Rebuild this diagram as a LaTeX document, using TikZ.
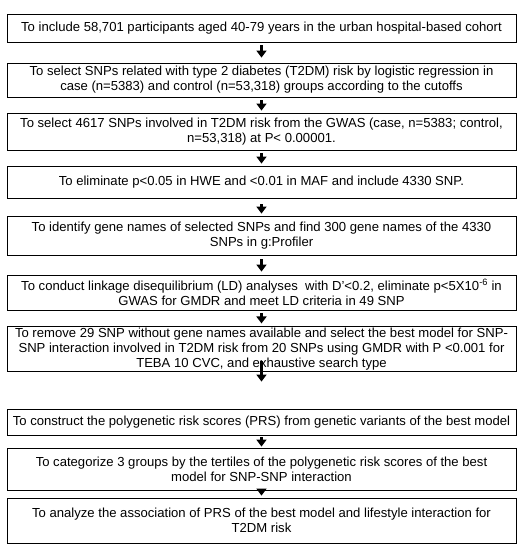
\documentclass[tikz,border=0pt]{standalone}
\usepackage{fontspec}
\setmainfont{Liberation Sans}
\usetikzlibrary{arrows.meta}
\tikzset{
  stepbox/.style={draw, line width=0.9pt, minimum width=509pt, align=center,
    inner xsep=0pt, inner ysep=1pt, font=\fontsize{13.1}{15}\selectfont},
  flow/.style={line width=2.4pt, -{Triangle[width=10pt,length=7pt]}}
}
\begin{document}
\begin{tikzpicture}[x=1pt,y=-1pt]
      \useasboundingbox (0,0) rectangle (524,550);
      \node[stepbox, minimum height=28pt] (b1) at (261.5,28) {To include 58,701 participants aged 40-79 years in the urban hospital-based cohort};
      \node[stepbox, minimum height=34pt] (b2) at (261.5,80) {To select SNPs related with type 2 diabetes (T2DM) risk by logistic regression in\\ case (n=5383) and control (n=53,318) groups according to the cutoffs};
      \node[stepbox, minimum height=37pt] (b3) at (261.5,131.5) {To select 4617 SNPs involved in T2DM risk from the GWAS (case, n=5383; control,\\ n=53,318) at P< 0.00001.};
      \node[stepbox, minimum height=32pt] (b4) at (261.5,182) {To eliminate p<0.05 in HWE and <0.01 in MAF and include 4330 SNP.};
      \node[stepbox, minimum height=39pt] (b5) at (261.5,235.5) {To identify gene names of selected SNPs and find 300 gene names of the 4330\\ SNPs in g:Profiler};
      \node[stepbox, minimum height=35pt] (b6) at (261.5,292.5) {To conduct linkage disequilibrium (LD) analyses\ \ with D’<0.2, eliminate p<5X10\textsuperscript{-6} in\\ GWAS for GMDR and meet LD criteria in 49 SNP};
      \node[stepbox, minimum height=44pt] (b7) at (261.5,349) {To remove 29 SNP without gene names available and select the best model for SNP-\\ SNP interaction involved in T2DM risk from 20 SNPs using GMDR with P <0.001 for\\ TEBA 10 CVC, and exhaustive search type};
      \node[stepbox, minimum height=26pt] (b8) at (261.5,422) {To construct the polygenetic risk scores (PRS) from genetic variants of the best model};
      \node[stepbox, minimum height=42pt] (b9) at (261.5,469) {To categorize 3 groups by the tertiles of the polygenetic risk scores of the best\\ model for SNP-SNP interaction};
      \node[stepbox, minimum height=45pt] (b10) at (261.5,520.5) {To analyze the association of PRS of the best model and lifestyle interaction for\\ T2DM risk};
      % arrows between the steps
      \draw[flow, shorten <=3pt, shorten >=5pt] (b1) -- (b2);
      \draw[flow, shorten <=3pt, shorten >=2pt] (b2) -- (b3);
      \draw[flow, shorten <=3pt, shorten >=2pt] (b3) -- (b4);
      \draw[flow, shorten <=6pt, shorten >=2pt] (b4) -- (b5);
      \draw[flow, shorten <=4pt, shorten >=3pt] (b5) -- (b6);
      \draw[flow, shorten <=3pt, shorten >=3pt] (b6) -- (b7);
      \draw[flow, shorten <=-11pt, shorten >=27pt] (b7) -- (b8);
      \draw[flow, shorten <=2pt, shorten >=1pt] (b8) -- (b9);
      \draw[flow, shorten <=-4pt, shorten >=2pt] (b9) -- (b10);
\end{tikzpicture}
\end{document}
